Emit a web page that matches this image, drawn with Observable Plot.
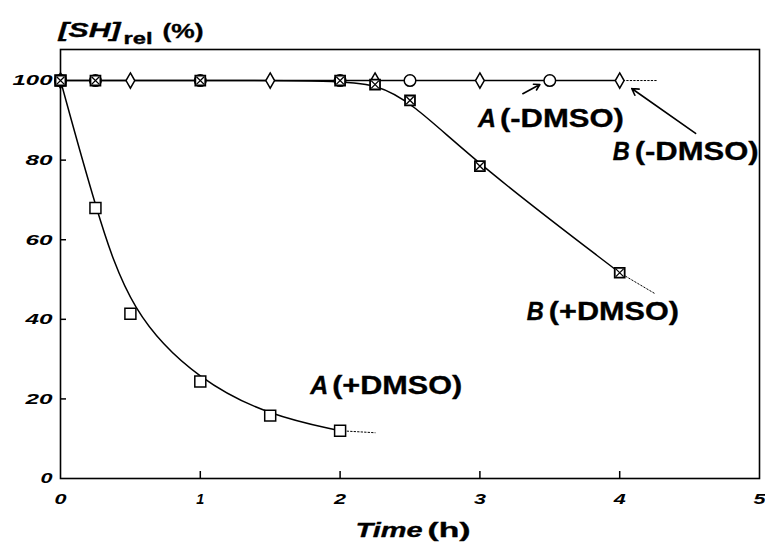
<!DOCTYPE html>
<html>
<head>
<meta charset="utf-8">
<script src="https://cdn.jsdelivr.net/npm/d3@7"></script>
<script src="https://cdn.jsdelivr.net/npm/@observablehq/plot@0.6"></script>
<style>
  html, body { margin: 0; padding: 0; background: #fff; }
</style>
</head>
<body>
<div id="chart"></div>
<script>
// ---- data ----
const timeAplus = [0, 0.25, 0.5, 1, 1.5, 2];            // A (+DMSO), squares
const shAplus   = [100, 68, 41.4, 24.4, 15.8, 12.0];
const timeBplus = [0, 0.25, 1, 2, 2.25, 2.5, 3, 4];     // B (+DMSO), crossed squares
const shBplus   = [100, 100, 100, 100, 99, 95, 78.5, 51.7];
const timeAminus = [0, 0.25, 1, 2, 2.5, 3.5];           // A (-DMSO), circles
const shAminus   = [100, 100, 100, 100, 100, 100];
const timeBminus = [0, 0.5, 1.5, 2.25, 3, 4];           // B (-DMSO), diamonds
const shBminus   = [100, 100, 100, 100, 100, 100];
// dotted extrapolated tails
const tailAplusT = [2, 2.25];   const tailAplusV = [12.0, 11.5];
const tailBplusT = [4, 4.25];   const tailBplusV = [51.7, 46.5];
const tailMinusT = [4, 4.27];   const tailMinusV = [100, 100];
// ticks
const xTicks = [0, 1, 2, 3, 4, 5];
const yTicks = [0, 20, 40, 60, 80, 100];
const xTicksIn = [1, 2, 3, 4];
const yTicksIn = [20, 40, 60, 80];
// annotations (series letter + condition)
const labelLetter = ["A", "B", "A", "B"];
const labelTag    = ["(+DMSO)", "(+DMSO)", "(-DMSO)", "(-DMSO)"];
const labelT      = [1.786, 3.336, 2.986, 3.95];
const labelV      = [23.4, 42.0, 90.5, 82.2];
// arrows
const arrowT1 = [3.307, 4.543], arrowV1 = [96.7, 86.7];
const arrowT2 = [3.429, 4.086], arrowV2 = [99.0, 98.0];

const zip = (t, v) => t.map((d, i) => ({t: d, v: v[i]}));
const Aplus = zip(timeAplus, shAplus);
const Bplus = zip(timeBplus, shBplus);
const Aminus = zip(timeAminus, shAminus);
const Bminus = zip(timeBminus, shBminus);
const labels = labelLetter.map((l, i) => ({l, tag: labelTag[i], t: labelT[i], v: labelV[i]}));
const arrows = arrowT1.map((d, i) => ({x1: d, y1: arrowV1[i], x2: arrowT2[i], y2: arrowV2[i]}));

const bi = {fontWeight: "bold", fontStyle: "italic"};
const heavy = {fill: "black", stroke: "black", strokeWidth: 0.35};
const dotted = {x: "t", y: "v", stroke: "black", strokeWidth: 1, strokeDasharray: "1.5,2"};

const svg = Plot.plot({
  width: 765, height: 549,
  marginLeft: 60, marginRight: 6, marginTop: 49, marginBottom: 71,
  style: {fontFamily: "Liberation Sans, Arial, sans-serif", background: "white", color: "black"},
  x: {domain: [0, 5], axis: null},
  y: {domain: [0, 107.8], axis: null},
  marks: [
    Plot.frame({stroke: "black", strokeWidth: 1.6}),
    Plot.axisX(xTicks, {tickSize: 0, tickPadding: 15, fontSize: 15, ...bi, label: null, tickFormat: d => String(d)}),
    Plot.axisY(yTicks, {tickSize: 0, tickPadding: 8, fontSize: 15, ...bi, label: null, tickFormat: d => String(d)}),
    Plot.axisX(xTicksIn, {tickSize: -7, strokeWidth: 1.5, tickFormat: () => "", label: null}),
    Plot.axisY(yTicksIn, {tickSize: -6, strokeWidth: 1.5, tickFormat: () => "", label: null}),
    // curves
    Plot.line(Bminus, {x: "t", y: "v", stroke: "black", strokeWidth: 1.5}),
    Plot.line(Aplus, {x: "t", y: "v", curve: "basis", stroke: "black", strokeWidth: 1.5}),
    Plot.line(Bplus, {x: "t", y: "v", curve: "basis", stroke: "black", strokeWidth: 1.5}),
    Plot.line(zip(tailAplusT, tailAplusV), dotted),
    Plot.line(zip(tailBplusT, tailBplusV), dotted),
    Plot.line(zip(tailMinusT, tailMinusV), dotted),
    // markers
    Plot.dot(Bminus, {x: "t", y: "v", symbol: "diamond", r: 4.6, fill: "white", stroke: "black", strokeWidth: 1.5}),
    Plot.dot(Aminus, {x: "t", y: "v", symbol: "circle", r: 5.8, fill: "white", stroke: "black", strokeWidth: 1.5}),
    Plot.dot(Aplus, {x: "t", y: "v", symbol: "square", r: 6.2, fill: "white", stroke: "black", strokeWidth: 1.5}),
    Plot.dot(Bplus, {x: "t", y: "v", symbol: "square", r: 5.6, fill: "white", stroke: "black", strokeWidth: 1.8}),
    Plot.dot(Bplus, {x: "t", y: "v", symbol: "times", r: 3.6, stroke: "black", strokeWidth: 1.3}),
    // arrows
    Plot.arrow(arrows, {x1: "x1", y1: "y1", x2: "x2", y2: "y2", stroke: "black", strokeWidth: 1.6, headLength: 7, inset: 0}),
    // labels
    Plot.text(labels, {x: "t", y: "v", text: "l", textAnchor: "start", lineAnchor: "middle", fontSize: 26, ...bi, ...heavy}),
    Plot.text(labels, {x: "t", y: "v", text: "tag", textAnchor: "start", lineAnchor: "middle", dx: 22, fontSize: 26, fontWeight: "bold", ...heavy}),
    // y title
    Plot.text(["[SH]"], {frameAnchor: "top-left", textAnchor: "start", lineAnchor: "middle", dx: -2, dy: -19, fontSize: 21, ...bi, ...heavy}),
    Plot.text(["rel"], {frameAnchor: "top-left", textAnchor: "start", lineAnchor: "middle", dx: 63, dy: -11, fontSize: 16, fontWeight: "bold", ...heavy}),
    Plot.text(["(%)"], {frameAnchor: "top-left", textAnchor: "start", lineAnchor: "middle", dx: 102, dy: -18, fontSize: 21, fontWeight: "bold", ...heavy}),
    // x title
    Plot.text(["Time"], {frameAnchor: "bottom", textAnchor: "start", lineAnchor: "middle", dx: -54.5, dy: 52, fontSize: 21, ...bi, ...heavy}),
    Plot.text(["(h)"], {frameAnchor: "bottom", textAnchor: "start", lineAnchor: "middle", dx: 17.5, dy: 52, fontSize: 21, fontWeight: "bold", ...heavy})
  ]
});

// widen glyphs to match the extended typeface of the original
const widths = {"[SH]": 62, "rel": 29, "(%)": 41, "Time": 67, "(h)": 43, "A": 18, "B": 17,
  "(+DMSO)": 130, "(-DMSO)": 124, "100": 40, "80": 27, "60": 27, "40": 27, "20": 27,
  "0": 12, "1": 8, "2": 12, "3": 12, "4": 12, "5": 12};
d3.select(svg).selectAll("text").each(function () {
  const w = widths[this.textContent];
  if (w) {
    this.setAttribute("textLength", w);
    this.setAttribute("lengthAdjust", "spacingAndGlyphs");
  }
});
document.getElementById("chart").appendChild(svg);
</script>
</body>
</html>
